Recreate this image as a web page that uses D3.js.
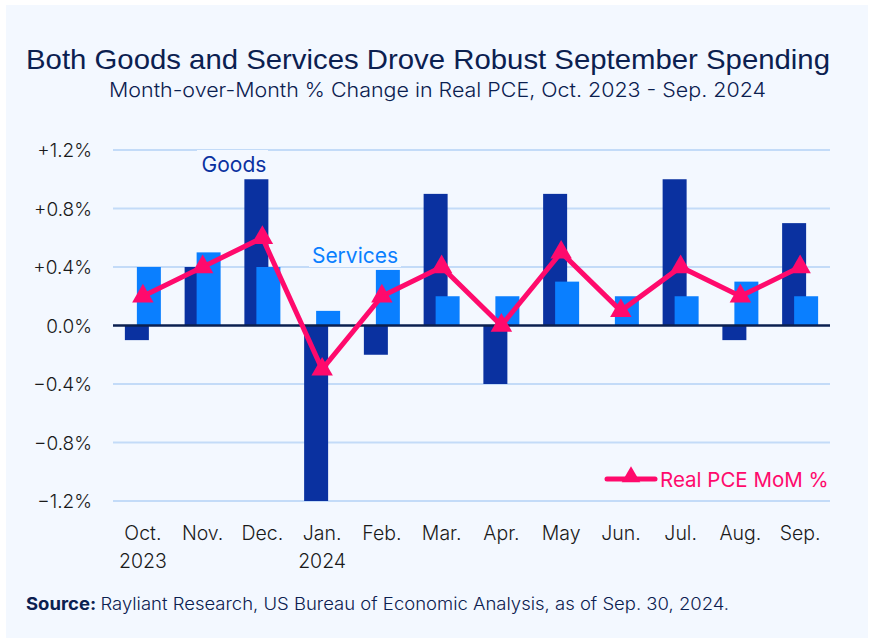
<!DOCTYPE html>
<html><head><meta charset="utf-8">
<script src="https://cdn.jsdelivr.net/npm/d3@7"></script>
<style>
html,body{margin:0;padding:0;background:#fff;}
svg{display:block;}
</style></head>
<body><svg id="chart" width="877" height="642"></svg>
<script>
const months = ["Oct.","Nov.","Dec.","Jan.","Feb.","Mar.","Apr.","May","Jun.","Jul.","Aug.","Sep."];
const years = ["2023","","","2024","","","","","","","",""];
const goods = [-0.1,0.4,1.0,-1.2,-0.2,0.9,-0.4,0.9,0.0,1.0,-0.1,0.7];
const services = [0.4,0.5,0.4,0.1,0.38,0.2,0.2,0.3,0.2,0.2,0.3,0.2];
const pce = [0.2,0.4,0.6,-0.3,0.2,0.4,0.0,0.5,0.1,0.4,0.2,0.4];
const yTicks = [1.2,0.8,0.4,0.0,-0.4,-0.8,-1.2];
const yTickLabels = ["+1.2%","+0.8%","+0.4%","0.0%","\u22120.4%","\u22120.8%","\u22121.2%"];

const svg = d3.select("#chart");
const navy = "#0b2050";
const cGoods = "#0a31a0", cServ = "#0a7fff", cLine = "#ff0a6c", cGrid = "#c3dbf8";

svg.append("rect").attr("x",6).attr("y",5).attr("width",862).attr("height",633).attr("fill","#f3f8ff");

svg.append("text").attr("x",26).attr("y",69)
  .attr("font-family","Liberation Sans, Arial, sans-serif").attr("font-size",28).attr("fill",navy)
  .attr("textLength",804).attr("lengthAdjust","spacingAndGlyphs")
  .text("Both Goods and Services Drove Robust September Spending");
svg.append("text").attr("x",109).attr("y",97)
  .attr("font-family","Inter, sans-serif").attr("font-weight",300).attr("font-size",20).attr("fill",navy)
  .attr("textLength",657).attr("lengthAdjust","spacingAndGlyphs")
  .text("Month-over-Month % Change in Real PCE, Oct. 2023 - Sep. 2024");

const x = d3.scaleBand().domain(months).range([113,830]).paddingInner(0).paddingOuter(0);
const y = d3.scaleLinear().domain([-1.2,1.2]).range([501,150]);

// grid
const grid = svg.append("g");
grid.selectAll("line").data(yTicks.filter(d=>d!==0)).join("line")
  .attr("x1",113).attr("x2",830).attr("y1",d=>y(d)).attr("y2",d=>y(d))
  .attr("stroke",cGrid).attr("stroke-width",2);

// y axis labels
const yAxis = d3.axisLeft(y).tickValues(yTicks).tickFormat((d,i)=>yTickLabels[i]).tickSize(0).tickPadding(0);
const ya = svg.append("g").attr("transform","translate(92,0)").call(yAxis);
ya.select(".domain").remove();
ya.selectAll("text").attr("font-family","Inter, sans-serif").attr("font-weight",300).attr("font-size",19).attr("fill","#1a1a1a").attr("dy","0.35em");

// labels with background
function label(txt, cx, cy, color, bx, bw){
  svg.append("rect").attr("x",bx).attr("y",cy-22).attr("width",bw).attr("height",26).attr("fill","#f3f8ff");
  svg.append("text").attr("x",cx).attr("y",cy).attr("text-anchor","middle")
    .attr("font-family","Inter, sans-serif").attr("font-size",21).attr("fill",color).text(txt);
}
label("Goods",234,172,cGoods,197,71);
label("Services",355,263,cServ,309,92);

const bw = 24;
svg.append("g").selectAll("rect").data(goods).join("rect")
  .attr("x",(d,i)=>x(months[i])+x.bandwidth()/2-6-bw/2).attr("width",bw)
  .attr("y",d=>y(Math.max(0,d))).attr("height",d=>Math.abs(y(d)-y(0)))
  .attr("fill",cGoods);
svg.append("g").selectAll("rect").data(services).join("rect")
  .attr("x",(d,i)=>x(months[i])+x.bandwidth()/2+6-bw/2).attr("width",bw)
  .attr("y",d=>y(Math.max(0,d))).attr("height",d=>Math.abs(y(d)-y(0)))
  .attr("fill",cServ);

// baseline
svg.append("line").attr("x1",113).attr("x2",830).attr("y1",y(0)).attr("y2",y(0)).attr("stroke",navy).attr("stroke-width",2.5);

// line
const line = d3.line().x((d,i)=>x(months[i])+x.bandwidth()/2).y(d=>y(d));
svg.append("path").datum(pce).attr("d",line).attr("fill","none").attr("stroke",cLine).attr("stroke-width",5).attr("stroke-linejoin","miter");
const tri = d3.symbol().type(d3.symbolTriangle).size(200);
svg.append("g").selectAll("path").data(pce).join("path")
  .attr("transform",(d,i)=>`translate(${x(months[i])+x.bandwidth()/2},${y(d)})`)
  .attr("d",tri).attr("fill",cLine);

// x axis labels
const xAxis = d3.axisBottom(x).tickSize(0).tickPadding(0);
const xa = svg.append("g").attr("transform","translate(0,526)").call(xAxis);
xa.select(".domain").remove();
xa.selectAll(".tick text").attr("font-family","Inter, sans-serif").attr("font-weight",300).attr("font-size",19.5).attr("fill","#1a1a1a").attr("dy","0.71em")
  .each(function(d,i){
    const t = d3.select(this); t.text(null);
    t.append("tspan").attr("x",0).attr("dy","0.71em").text(d);
    if (years[i]) t.append("tspan").attr("x",0).attr("dy","1.45em").text(years[i]);
  });

// legend
svg.append("line").attr("x1",607).attr("x2",655).attr("y1",479).attr("y2",479).attr("stroke",cLine).attr("stroke-width",5).attr("stroke-linecap","round");
svg.append("path").attr("transform","translate(631,477)").attr("d",d3.symbol().type(d3.symbolTriangle).size(150)).attr("fill",cLine);
svg.append("text").attr("x",660).attr("y",487).attr("font-family","Inter, sans-serif").attr("font-size",20.5).attr("fill",cLine).text("Real PCE MoM %");

// source
const src = svg.append("text").attr("x",26).attr("y",610).attr("font-family","Inter, sans-serif").attr("font-size",17).attr("fill",navy)
  .attr("textLength",703).attr("lengthAdjust","spacingAndGlyphs");
src.append("tspan").attr("font-weight",700).text("Source: ");
src.append("tspan").attr("font-weight",300).text("Rayliant Research, US Bureau of Economic Analysis, as of Sep. 30, 2024.");
</script></body></html>
